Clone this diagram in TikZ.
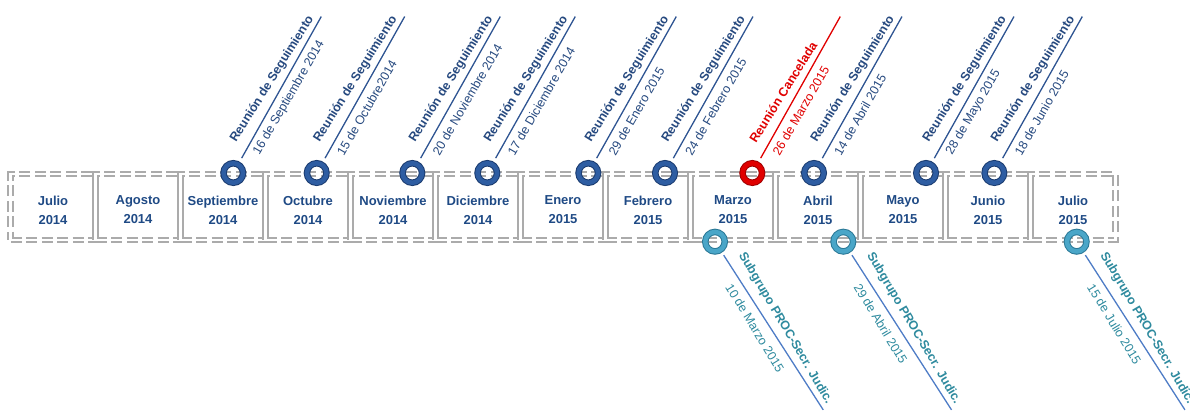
\documentclass[tikz,border=0pt]{standalone}
\usepackage{fontspec}
\setsansfont{Liberation Sans}
\usetikzlibrary{calc}
\definecolor{MonthNavy}{HTML}{1F4A85}
\definecolor{LabelNavy}{HTML}{26497F}
\definecolor{RingNavy}{HTML}{2E5DA2}
\definecolor{RingEdge}{HTML}{1B3C70}
\definecolor{StemNavy}{HTML}{2E5492}
\definecolor{CancelRed}{HTML}{E00000}
\definecolor{CancelEdge}{HTML}{A00000}
\definecolor{RingTeal}{HTML}{4AA6C8}
\definecolor{TealEdge}{HTML}{2A7896}
\definecolor{LabelTeal}{HTML}{2E8A9E}
\definecolor{StemSky}{HTML}{4E7CC6}
\definecolor{BorderGray}{HTML}{ABABAB}

\begin{document}
\begin{tikzpicture}[x=1pt,y=1pt,
  every node/.style={font=\sffamily\fontsize{12.5}{19}\selectfont},
  monthbox/.style={draw=BorderGray, double=white, double distance=2.3pt, line width=2pt,
    dash pattern=on 11pt off 4.5pt, minimum width=85pt, minimum height=66.5pt, inner sep=0pt},
  monthtext/.style={align=center, inner sep=0pt, text=MonthNavy,
    font=\sffamily\bfseries\fontsize{13}{19}\selectfont},
  meetring/.style={circle, draw=RingEdge, double=RingNavy, line width=1pt,
    double distance=4.5pt, minimum size=19.5pt, inner sep=0pt, outer sep=3.25pt},
  subring/.style={meetring, draw=TealEdge, double=RingTeal},
  stemnavy/.style={draw=StemNavy, line width=1.3pt, shorten <=4pt},
  stemsky/.style={draw=StemSky, line width=1.3pt, shorten <=3pt},
  toplabel/.style={anchor=west, inner sep=0pt, text=LabelNavy, font=\sffamily\bfseries\fontsize{12.5}{15}\selectfont},
  topdate/.style={anchor=west, inner sep=0pt, text=LabelNavy},
  sublabel/.style={anchor=west, inner sep=0pt, text=LabelTeal, font=\sffamily\bfseries\fontsize{12.5}{15}\selectfont},
  subdate/.style={anchor=west, inner sep=0pt, text=LabelTeal}]
  \useasboundingbox (0,0) rectangle (1190,412);
  % month boxes
  \foreach \i/\mes/\anio in {0/Julio/2014, 1/Agosto/2014, 2/Septiembre/2014, 3/Octubre/2014,
      4/Noviembre/2014, 5/Diciembre/2014, 6/Enero/2015, 7/Febrero/2015, 8/Marzo/2015,
      9/Abril/2015, 10/Mayo/2015, 11/Junio/2015, 12/Julio/2015} {
    \node[monthbox] (m\i) at (53+85*\i,205) {};
    \node[monthtext] (t\i) at ([yshift=-3pt]m\i.center) {\mes\\\anio};
  }
  % follow-up meetings
  \foreach \i/\x/\when in {1/233.3/16 de Septiembre 2014, 2/316.7/15 de Octubre2014,
      3/412.3/20 de Noviembre 2014, 4/487.3/17 de Diciembre 2014, 5/588.3/29 de Enero 2015,
      6/665/24 de Febrero 2015, 8/814/14 de Abril 2015, 9/926/28 de Mayo 2015,
      10/994.3/18 de Junio 2015} {
    \node[meetring] (meet\i) at (\x,239) {};
    \coordinate (meettip\i) at ($(meet\i)+(60.65:179.5)$);
    \draw[stemnavy] (meet\i) -- (meettip\i);
    \node[toplabel, rotate=58] (meettitle\i) at ($(meet\i)+(60.65:27.5)+(150.65:15.5)$) {Reunión de Seguimiento};
    \node[topdate, rotate=60] (meetdate\i) at ($(meet\i)+(60.65:27.5)+(-29.35:11.2)$) {\when};
  }
  % cancelled meeting
  \node[meetring, draw=CancelEdge, double=CancelRed] (meet7) at (752.3,239) {};
  \coordinate (meettip7) at ($(meet7)+(60.65:179.5)$);
  \draw[stemnavy, draw=CancelRed] (meet7) -- (meettip7);
  \node[toplabel, rotate=58, text=CancelRed] (meettitle7) at ($(meet7)+(60.65:27.5)+(150.65:15.5)$) {Reunión Cancelada};
  \node[topdate, rotate=60, text=CancelRed] (meetdate7) at ($(meet7)+(60.65:27.5)+(-29.35:11.2)$) {26 de Marzo 2015};
  % subgroup sessions
  \foreach \i/\x/\when in {1/715/10 de Marzo 2015, 2/843.3/29 de Abril 2015, 3/1076.7/15 de Julio 2015} {
    \node[subring] (sub\i) at (\x,170.3) {};
    \coordinate (subtip\i) at ($(sub\i)+(-57.24:200)$);
    \draw[stemsky] (sub\i) -- (subtip\i);
    \node[sublabel, rotate=-59.5] (subtitle\i) at ($(sub\i)+(-57.24:24)+(32.76:15.7)$) {Subgrupo PROC-Secr. Judic.};
    \node[subdate, rotate=-58.7] (subdate\i) at ($(sub\i)+(-57.24:43.5)+(-147.24:11.7)$) {\when};
  }
\end{tikzpicture}
\end{document}
